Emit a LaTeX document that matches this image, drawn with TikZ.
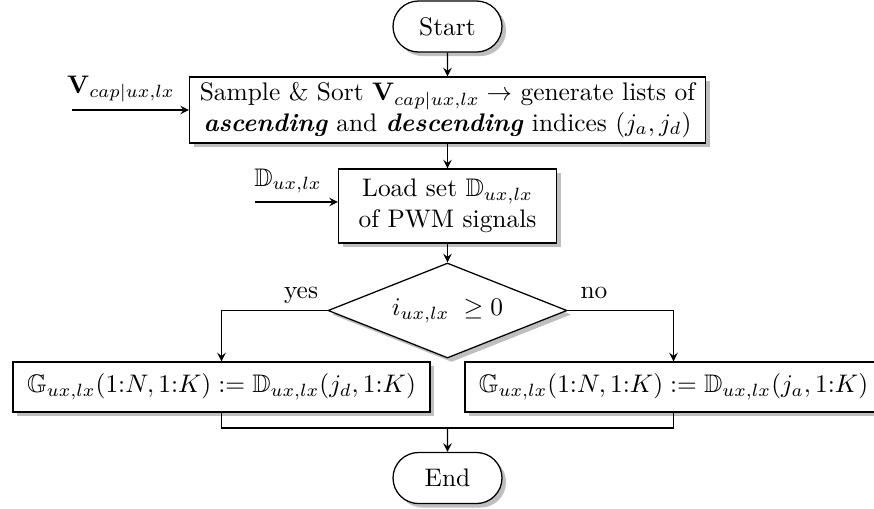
\documentclass[tikz,border=0pt]{standalone}
\usepackage{amsmath,amssymb}
\usetikzlibrary{shapes.misc,shapes.geometric,shadows,arrows}
\tikzset{
  >=stealth,
  flowline/.style={line width=0.5pt},
  shade/.style={drop shadow={shadow xshift=1.6pt,shadow yshift=-1.6pt,opacity=0.5,fill=black!50}},
  terminal/.style={rounded rectangle,draw,line width=0.5pt,fill=white,shade,
    minimum width=46.9pt,minimum height=20.1pt,inner sep=2pt},
  process/.style={rectangle,draw,line width=0.5pt,fill=white,shade,align=center,
    inner sep=2pt},
  decision/.style={diamond,draw,line width=0.5pt,fill=white,shade,aspect=2.5,
    inner sep=0pt,minimum width=94.1pt,minimum height=37.4pt},
  lbl/.style={inner sep=0pt},
}
\begin{document}
\begin{tikzpicture}[x=0.3937pt,y=-0.3937pt]
  \clip (0,0) rectangle (874,508);

  % flow nodes
  \node[terminal] (start) at (447.5,26.5) {Start};
  \node[process,minimum width=203.1pt,minimum height=26pt] (sort) at (447.5,110)
    {Sample \& Sort $\mathbf{V}_{cap|ux,lx} \rightarrow$ generate lists of\\
     \textbf{\textit{ascending}} and \textbf{\textit{descending}} indices $(j_a, j_d)$};
  \node[process,minimum width=85.8pt,minimum height=29.1pt] (load) at (447.5,206)
    {Load set $\mathbb{D}_{ux,lx}$\\of PWM signals};
  \node[decision] (test) at (447.5,310.5) {$i_{ux,lx}\;\geq 0$};
  \node[process,minimum width=164.2pt,minimum height=19.7pt] (desc) at (221.5,387)
    {$\mathbb{G}_{ux,lx}(1{:}N,1{:}K) := \mathbb{D}_{ux,lx}(j_d,1{:}K)$};
  \node[process,minimum width=164.2pt,minimum height=19.7pt] (asc) at (673.5,387)
    {$\mathbb{G}_{ux,lx}(1{:}N,1{:}K) := \mathbb{D}_{ux,lx}(j_a,1{:}K)$};
  \node[terminal] (end) at (447.5,478) {End};

  % external inputs
  \coordinate (vin) at (72,110);
  \coordinate (din) at (255,202);
  \node[lbl] (vlbl) at (121,89) {$\mathbf{V}_{cap|ux,lx}$};
  \node[lbl] (dlbl) at (288,181) {$\mathbb{D}_{ux,lx}$};
  \draw[flowline,->] (vin) -- (vin -| sort.west);
  \draw[flowline,->] (din) -- (din -| load.west);

  % main flow
  \draw[flowline,->] (start) -- (sort);
  \draw[flowline,->] (sort) -- (load);
  \draw[flowline,->] (load) -- (test);
  \draw[flowline,->] (test.west) -| (desc.north);
  \draw[flowline,->] (test.east) -| (asc.north);
  \node[lbl,anchor=base] (yes) at (301,298) {yes};
  \node[lbl,anchor=base] (no) at (594,298) {no};

  % merge
  \coordinate (merge) at (447.5,428);
  \draw[flowline] (desc.south) |- (merge);
  \draw[flowline] (asc.south) |- (merge);
  \draw[flowline,->] (merge) -- (end);
\end{tikzpicture}
\end{document}
